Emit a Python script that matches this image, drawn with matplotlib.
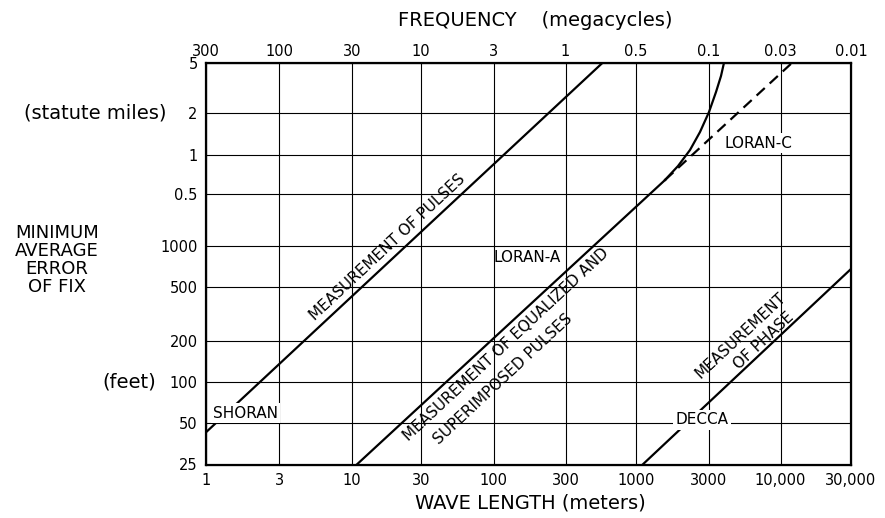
import numpy as np
import matplotlib
matplotlib.use('Agg')
import matplotlib.pyplot as plt

# ---------------- data ----------------
wave_ticks = [1, 3, 10, 30, 100, 300, 1000, 3000, 10000, 30000]
wave_labels = ['1', '3', '10', '30', '100', '300', '1000', '3000', '10,000', '30,000']
freq_labels = ['300', '100', '30', '10', '3', '1', '0.5', '0.1', '0.03', '0.01']
err_ticks_ft = [25, 50, 100, 200, 500, 1000, 2640, 5280, 10560, 26400]
err_labels = ['25', '50', '100', '200', '500', '1000', '0.5', '1', '2', '5']

# measurement of pulses (SHORAN)
pulses_wave = [1, 566]
pulses_err = [43, 26400]
# measurement of equalized and superimposed pulses (LORAN-A, straight part)
loranA_wave = [10.8, 1550]
loranA_err = [25, 3390]
# LORAN-C dashed extension
loranC_wave = [1550, 12000]
loranC_err = [3390, 26400]
# curve bending upward
curve_wave = [1547, 1882, 2254, 2620, 3000, 3376, 3672, 3863]
curve_err = [3386, 4342, 5731, 7696, 10696, 15436, 20696, 26400]
# measurement of phase (DECCA)
phase_wave = [1106, 30000]
phase_err = [25, 675]

# hand-drawn grid spacing of the original chart (relative positions)
x_grid_pos = [0, 73, 146, 215, 287.5, 359.5, 430, 503, 574.5, 645]
y_grid_pos = [0, 41.2, 82.8, 123.5, 177.8, 218.8, 270.5, 309.5, 351.8, 401.8]

lx = np.log10(wave_ticks)
ly = np.log10(err_ticks_ft)


def fwd_x(v):
    v = np.clip(np.asarray(v, dtype=float), 1e-12, None)
    return np.interp(np.log10(v), lx, x_grid_pos)


def inv_x(p):
    return 10 ** np.interp(p, x_grid_pos, lx)


def fwd_y(v):
    v = np.clip(np.asarray(v, dtype=float), 1e-12, None)
    return np.interp(np.log10(v), ly, y_grid_pos)


def inv_y(p):
    return 10 ** np.interp(p, y_grid_pos, ly)


W, H = 885, 518
fig = plt.figure(figsize=(W / 100, H / 100), dpi=100)
plt.rcParams['font.family'] = ['DejaVu Sans']
L, R, T, B = 206, 851, 62.7, 464.5
ax = fig.add_axes([L / W, 1 - B / H, (R - L) / W, (B - T) / H])
ax.set_xscale('function', functions=(fwd_x, inv_x))
ax.set_yscale('function', functions=(fwd_y, inv_y))
ax.set_xlim(wave_ticks[0], wave_ticks[-1])
ax.set_ylim(err_ticks_ft[0], err_ticks_ft[-1])

ax.set_xticks(wave_ticks)
ax.set_xticklabels(wave_labels)
ax.set_yticks(err_ticks_ft)
ax.set_yticklabels(err_labels)
ax.minorticks_off()
ax.tick_params(axis='x', length=0, pad=6, labelsize=10.5)
ax.tick_params(axis='y', length=0, pad=6, labelsize=10.5)
ax.grid(True, color='black', linewidth=0.8)
for s in ax.spines.values():
    s.set_linewidth(1.6)

ax2 = ax.twiny()
ax2.set_xscale('function', functions=(fwd_x, inv_x))
ax2.set_xlim(ax.get_xlim())
ax2.set_xticks(wave_ticks)
ax2.set_xticklabels(freq_labels)
ax2.minorticks_off()
ax2.tick_params(axis='x', length=0, pad=3, labelsize=10.5)

lw = 1.6
ax.plot(pulses_wave, pulses_err, color='black', lw=lw, zorder=3)
ax.plot(loranA_wave, loranA_err, color='black', lw=lw, zorder=3)
ax.plot(loranC_wave, loranC_err, color='black', lw=lw, ls=(0, (5, 3)), zorder=3)
ax.plot(curve_wave, curve_err, color='black', lw=lw, zorder=3)
ax.plot(phase_wave, phase_err, color='black', lw=lw, zorder=3)


def axf(px, py):
    return ((px - L) / (R - L), (B - py) / (B - T))


box = dict(facecolor='white', edgecolor='none', pad=1.5)
fs = 11
ax.text(*axf(245.5, 413), 'SHORAN', transform=ax.transAxes, fontsize=fs,
        ha='center', va='center', bbox=box, zorder=4)
ax.text(*axf(527, 258), 'LORAN-A', transform=ax.transAxes, fontsize=fs,
        ha='center', va='center', zorder=4)
ax.text(*axf(758, 143), 'LORAN-C', transform=ax.transAxes, fontsize=fs,
        ha='center', va='center', bbox=box, zorder=4)
ax.text(*axf(702, 420), 'DECCA', transform=ax.transAxes, fontsize=fs,
        ha='center', va='center', bbox=box, zorder=4)

rot = 43
ax.text(*axf(387, 247), 'MEASUREMENT OF PULSES', transform=ax.transAxes,
        fontsize=fs, ha='center', va='center', rotation=rot, zorder=4)
ax.text(*axf(506, 345), 'MEASUREMENT OF EQUALIZED AND', transform=ax.transAxes,
        fontsize=fs, ha='center', va='center', rotation=rot, zorder=4)
ax.text(*axf(503, 379.5), 'SUPERIMPOSED PULSES', transform=ax.transAxes,
        fontsize=fs, ha='center', va='center', rotation=rot, zorder=4)
ax.text(*axf(741, 336), 'MEASUREMENT', transform=ax.transAxes,
        fontsize=fs, ha='center', va='center', rotation=rot, zorder=4)
ax.text(*axf(764, 341), 'OF PHASE', transform=ax.transAxes,
        fontsize=fs, ha='center', va='center', rotation=rot, zorder=4)

fig.text(535 / W, 1 - 21 / H, 'FREQUENCY    (megacycles)', fontsize=14,
         ha='center', va='center')
fig.text(530 / W, 1 - 503 / H, 'WAVE LENGTH (meters)', fontsize=14,
         ha='center', va='center')
fig.text(166 / W, 1 - 113 / H, '(statute miles)', fontsize=14,
         ha='right', va='center')
fig.text(156 / W, 1 - 382 / H, '(feet)', fontsize=14,
         ha='right', va='center')
fig.text(57 / W, 1 - 260 / H, 'MINIMUM\nAVERAGE\nERROR\nOF FIX', fontsize=13,
         ha='center', va='center', multialignment='center', linespacing=1.0)

fig.savefig('out.png', dpi=100, facecolor='white')
